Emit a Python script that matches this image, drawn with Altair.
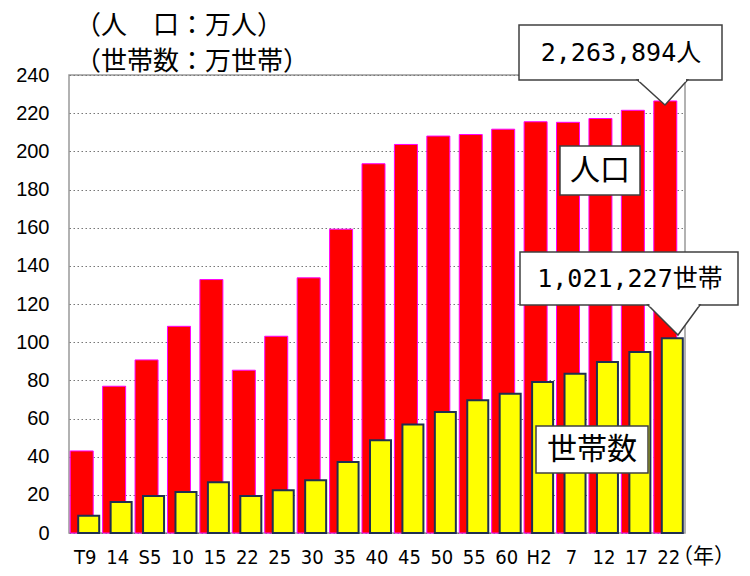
import altair as alt
import pandas as pd

keys = ["T9", "T14", "S5", "S10", "S15", "S22", "S25", "S30", "S35", "S40",
        "S45", "S50", "S55", "S60", "H2", "H7", "H12", "H17", "H22"]
labels = ["T9", "14", "S5", "10", "15", "22", "25", "30", "35", "40",
          "45", "50", "55", "60", "H2", "7", "12", "17", "22"]
population = [43.0, 76.9, 90.7, 108.3, 132.8, 85.3, 103.1, 133.7, 159.2, 193.5,
              203.6, 208.0, 208.8, 211.6, 215.5, 215.2, 217.2, 221.5, 226.4]
households = [9.0, 16.3, 19.4, 21.5, 26.6, 19.4, 22.4, 27.6, 37.2, 48.6,
              56.9, 63.4, 69.5, 73.0, 79.1, 83.5, 89.6, 94.8, 102.1]

df = pd.DataFrame({"key": keys, "pop": population, "hh": households})

JP = "Noto Sans CJK JP"
MONO = "DejaVu Sans Mono, Noto Sans CJK JP"
label_expr = "[" + ",".join(f"'{l}'" for l in labels) + "][indexof([" + \
    ",".join(f"'{k}'" for k in keys) + "], datum.value)]"

x = alt.X("key:N", sort=keys, title=None,
          scale=alt.Scale(paddingInner=0, paddingOuter=0),
          axis=alt.Axis(labelAngle=0, ticks=False, domain=False, grid=False,
                        labelExpr=label_expr,
                        labelFont="DejaVu Sans Condensed, Liberation Sans Narrow, Liberation Sans",
                        labelFontSize=20, labelColor="#000", labelPadding=14))
yscale = alt.Scale(domain=[0, 240], nice=False)
yaxis = alt.Axis(values=list(range(0, 241, 20)), ticks=False, domain=False, title=None,
                 labelFont="Liberation Sans", labelFontSize=20, labelColor="#000",
                 labelOverlap=False, labelPadding=20, grid=True, gridColor="#777",
                 gridDash=[1.5, 2.5], gridWidth=1)

red = alt.Chart(df).mark_bar(width=23, xOffset=-3.5, color="#FF0000", stroke="#FF00FF",
                             strokeWidth=1).encode(
    x=x, y=alt.Y("pop:Q", scale=yscale, axis=yaxis))
yellow = alt.Chart(df).mark_bar(width=21, xOffset=3.5, color="#FFFF00", stroke="#1F2F50",
                                strokeWidth=2).encode(
    x=x, y=alt.Y("hh:Q", scale=yscale, axis=yaxis))

one = pd.DataFrame({"a": [0]})
base = alt.Chart(one)
layers = [red, yellow]

def text(t, px, py, size, align="center", font=JP):
    return base.mark_text(align=align, baseline="middle", font=font, fontSize=size,
                          color="#000").encode(x=alt.value(px), y=alt.value(py), text=alt.value(t))

def box(x1, x2, y1, y2):
    return base.mark_rect(fill="white", stroke="#404040", strokeWidth=1.5).encode(
        x=alt.value(x1), x2=alt.value(x2), y=alt.value(y1), y2=alt.value(y2))

def pointer(px, py, shape, size, bl, br):
    tri = base.mark_point(shape=shape, size=size, filled=True, fill="white", opacity=1,
                          stroke="#404040", strokeWidth=1.5).encode(
        x=alt.value(px), y=alt.value(py))
    cover = base.mark_rule(color="white", strokeWidth=3).encode(
        x=alt.value(bl + 1.5), x2=alt.value(br - 1.5), y=alt.value(py))
    return [tri, cover]

# titles
layers.append(text("（人　口：万人）", 6, -49, 26, align="left"))
layers.append(text("（世帯数：万世帯）", 6, -13, 26, align="left"))
layers.append(text("（年）", 603, 482, 21, align="left"))

# callout population total
layers.append(box(450, 653, -50, 5))
layers += pointer(593.5, 5, "M-1,0L1,0L0.1,1Z", 2500, 568.5, 618.5)
layers.append(text("2,263,894人", 552, -22, 25, font=MONO))

# label population
layers.append(box(491, 571, 71, 120))
layers.append(text("人口", 531, 96, 30))

# callout households total
layers.append(box(451, 669, 177, 230))
layers += pointer(609, 230, "M-1,0L0.73,0L0,1Z", 3600, 579, 631)
layers.append(text("1,021,227世帯", 561, 204, 25, font=MONO))

# label households
layers.append(box(467, 579, 351, 398))
layers.append(text("世帯数", 523, 375, 30))

chart = alt.layer(*layers).properties(
    width=616, height=458,
    autosize=alt.AutoSizeParams(type="none"),
    padding={"left": 61, "top": 67, "right": 57, "bottom": 35},
    background="white",
).configure_view(stroke="#999", strokeWidth=1.5)

chart.save("out.html", embed_options={"renderer": "svg", "actions": False})
